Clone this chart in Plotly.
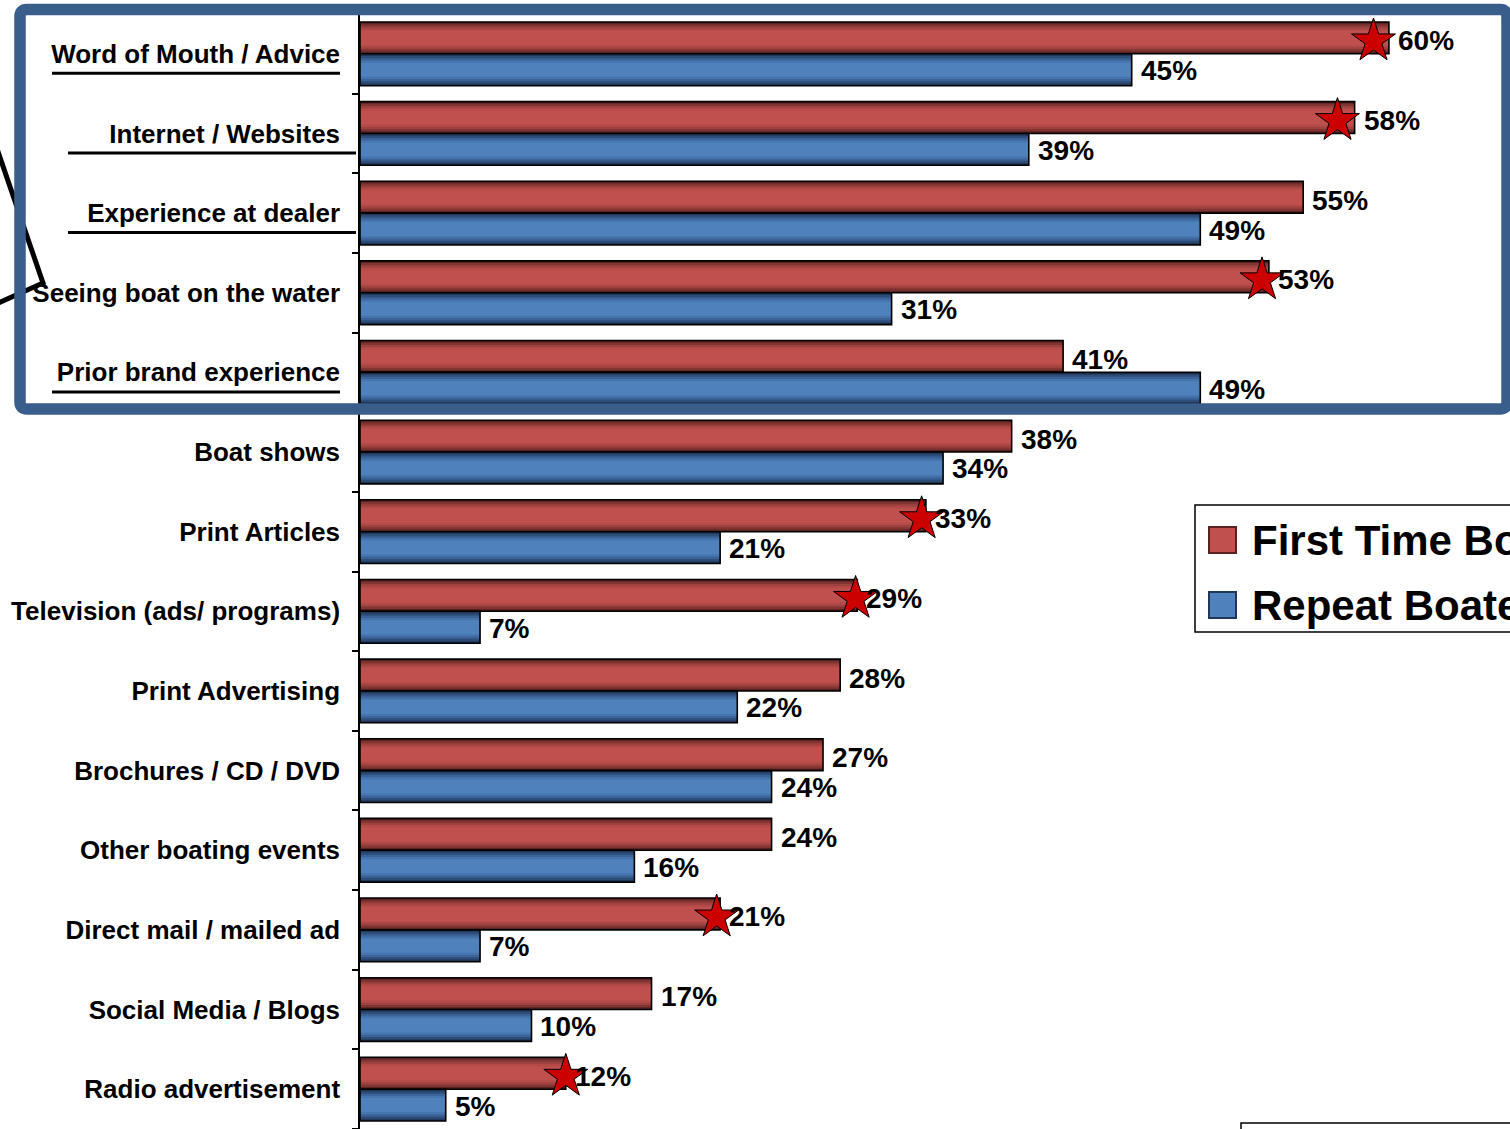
import plotly.graph_objects as go

# --- data -----------------------------------------------------------------
categories = [
    "Word of Mouth / Advice",
    "Internet / Websites",
    "Experience at dealer",
    "Seeing boat on the water",
    "Prior brand experience",
    "Boat shows",
    "Print Articles",
    "Television (ads/ programs)",
    "Print Advertising",
    "Brochures / CD / DVD",
    "Other boating events",
    "Direct mail / mailed ad",
    "Social Media / Blogs",
    "Radio advertisement",
]
first_time = [60, 58, 55, 53, 41, 38, 33, 29, 28, 27, 24, 21, 17, 12]
repeat = [45, 39, 49, 31, 49, 34, 21, 7, 22, 24, 16, 7, 10, 5]

# significant differences flagged with a star on the first-time bar
star_rows = [0, 1, 3, 6, 7, 11, 13]
star_x = [59.1, 57.0, 52.6, 32.75, 28.9, 20.8, 12.0]

underlined_rows = [0, 1, 2, 4]

series_names = ["First Time Boaters", "Repeat Boaters"]

# --- geometry helpers -----------------------------------------------------
W, H = 1510, 1129
ML, MR, MT, MB = 360, 0, 14, 0
XMAX = 67.06
n = len(categories)
pos = list(range(n))


def px(x):
    return (x - ML) / (W - ML - MR)


def py(y):
    return 1 - (y - MT) / (H - MT - MB)


FONT = "Liberation Sans, Arial, sans-serif"
BAR_W = 0.4

# shaded bar layers (relative thickness, colour), outermost first
red_layers = [(1.0, "#5a2220"), (0.86, "#813432"), (0.72, "#9e4240"),
              (0.58, "#b44b48"), (0.44, "#c0504d")]
blue_layers = [(1.0, "#20375a"), (0.86, "#2e4e7a"), (0.72, "#3b6397"),
               (0.58, "#4675ae"), (0.44, "#4f81bd")]

fig = go.Figure()


def add_series(values, layers, centre):
    for frac, col in layers:
        w = BAR_W * frac
        fig.add_trace(go.Bar(
            x=values, y=pos, orientation="h", width=w,
            offset=centre - w / 2, marker=dict(color=col, line=dict(width=0)),
            opacity=1, showlegend=False, hoverinfo="skip"))
    fig.add_trace(go.Bar(
        x=values, y=pos, orientation="h", width=BAR_W,
        offset=centre - BAR_W / 2,
        marker=dict(color="rgba(0,0,0,0)", line=dict(color="black", width=1.6)),
        showlegend=False, hoverinfo="skip"))


add_series(first_time, red_layers, -0.2)
add_series(repeat, blue_layers, 0.2)

# stars
fig.add_trace(go.Scatter(
    x=star_x, y=[star_rows[k] - 0.16 for k in range(len(star_rows))],
    mode="markers",
    marker=dict(symbol="star", size=33, color="#cc0000",
                line=dict(color="black", width=1)),
    showlegend=False, hoverinfo="skip"))

# value labels
annotations = []
for i in range(n):
    for val, c, dy in ((first_time[i], -0.2, -3), (repeat[i], 0.2, -1)):
        annotations.append(dict(
            x=val, y=i + c, xref="x", yref="y", text=f"<b>{val}%</b>",
            showarrow=False, xanchor="left", yanchor="middle", xshift=7,
            yshift=dy, font=dict(family=FONT, size=28, color="black")))

# legend drawn by hand
legend_rows = [(540, "#c0504d", "#5a2220"), (605, "#4f81bd", "#20375a")]
shapes = []
for (yc, fill, edge), name in zip(legend_rows, series_names):
    shapes.append(dict(type="rect", xref="paper", yref="paper",
                       x0=px(1209), x1=px(1236), y0=py(yc - 13), y1=py(yc + 13),
                       fillcolor=fill, line=dict(color=edge, width=2)))
    annotations.append(dict(
        x=px(1250), y=py(yc), xref="paper", yref="paper",
        text=f"<b>{name}</b>", showarrow=False, xanchor="left", yanchor="middle",
        font=dict(family=FONT, size=42, color="black")))
shapes.append(dict(type="rect", xref="paper", yref="paper",
                   x0=px(1195), x1=px(1560), y0=py(505), y1=py(632),
                   line=dict(color="black", width=1.5), fillcolor="rgba(0,0,0,0)"))

# partial box at lower right
shapes.append(dict(type="rect", xref="paper", yref="paper",
                   x0=px(1241), x1=px(1560), y0=py(1123), y1=py(1180),
                   line=dict(color="black", width=1.5), fillcolor="rgba(0,0,0,0)"))

# underlines beneath highlighted labels
underline_span = {0: (52, 340), 1: (68, 356), 2: (68, 356), 4: (52, 340)}
for r in underlined_rows:
    a, b = underline_span[r]
    shapes.append(dict(type="line", xref="paper", yref="y",
                       x0=px(a), x1=px(b), y0=r + 0.245, y1=r + 0.245,
                       line=dict(color="black", width=3), layer="above"))

# black pointer outline on the far left
pointer = [(-6, 140), (43, 283), (-6, 305)]
path = "M " + " L ".join(f"{px(x)},{py(y)}" for x, y in pointer)
shapes.append(dict(type="path", xref="paper", yref="paper", path=path,
                   line=dict(color="black", width=5), layer="above"))

# rounded highlight frame around the top five rows
x0, x1, y0, y1, r = 20, 1507, 9.5, 409, 7
pts = (f"M {px(x0 + r)},{py(y0)} L {px(x1 - r)},{py(y0)} "
       f"Q {px(x1)},{py(y0)} {px(x1)},{py(y0 + r)} "
       f"L {px(x1)},{py(y1 - r)} Q {px(x1)},{py(y1)} {px(x1 - r)},{py(y1)} "
       f"L {px(x0 + r)},{py(y1)} Q {px(x0)},{py(y1)} {px(x0)},{py(y1 - r)} "
       f"L {px(x0)},{py(y0 + r)} Q {px(x0)},{py(y0)} {px(x0 + r)},{py(y0)} Z")
shapes.append(dict(type="path", xref="paper", yref="paper", path=pts,
                   line=dict(color="#3a5e8c", width=11.5), layer="above"))

fig.update_layout(
    width=W, height=H,
    margin=dict(l=ML, r=MR, t=MT, b=MB, pad=0),
    paper_bgcolor="white", plot_bgcolor="white",
    barmode="overlay",
    showlegend=False,
    font=dict(family=FONT, color="black"),
    xaxis=dict(range=[0, XMAX], visible=False, fixedrange=True),
    yaxis=dict(
        range=[n - 0.5, -0.5], tickmode="array", tickvals=pos,
        ticktext=[f"<b>{c}</b>" for c in categories],
        tickfont=dict(family=FONT, size=26, color="black"),
        ticks="", ticklabelstandoff=13,
        showline=True, linecolor="black", linewidth=1.5,
        showgrid=False, zeroline=False,
        minor=dict(tickmode="array", tickvals=[i - 0.5 for i in range(n + 1)],
                   ticks="outside", ticklen=6, tickcolor="black", tickwidth=1.5,
                   showgrid=False),
    ),
    shapes=shapes,
    annotations=annotations,
)

fig.write_html("out.html")
